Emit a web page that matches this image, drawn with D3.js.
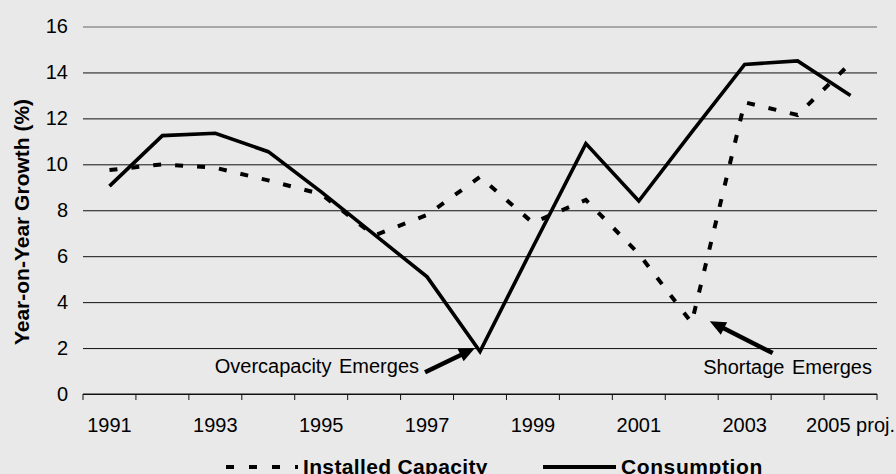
<!DOCTYPE html>
<html>
<head>
<meta charset="utf-8">
<script src="https://cdn.jsdelivr.net/npm/d3@7"></script>
<style>
  html, body { margin: 0; padding: 0; background: #e9e9e9; }
  svg { display: block; font-family: "Liberation Sans", Arial, sans-serif; }
</style>
</head>
<body>
<svg id="chart" width="896" height="474"></svg>
<script>
// Year-on-year growth of installed capacity vs. consumption
const years = [1991, 1992, 1993, 1994, 1995, 1996, 1997, 1998, 1999, 2000, 2001, 2002, 2003, 2004, 2005];
const tickLabels = ["1991", "", "1993", "", "1995", "", "1997", "", "1999", "", "2001", "", "2003", "", "2005 proj."];
const consumption = [9.05, 11.25, 11.35, 10.55, 8.8, 6.95, 5.1, 1.85, 6.4, 10.9, 8.4, 11.4, 14.35, 14.5, 13.0];
const capacity = [9.75, 10.0, 9.85, 9.3, 8.7, 6.9, 7.8, 9.45, 7.45, 8.45, 6.1, 3.1, 12.7, 12.15, 14.4];
const yTicks = [0, 2, 4, 6, 8, 10, 12, 14, 16];

const svg = d3.select("#chart");
const plotLeft = 83, plotRight = 877, plotTop = 26.5, plotBottom = 394;

const x = d3.scaleBand().domain(years).range([plotLeft, plotRight]).padding(0);
const y = d3.scaleLinear().domain([0, 16]).range([plotBottom, plotTop]);
const cx = yr => x(yr) + x.bandwidth() / 2;

// horizontal gridlines + y labels
const yAxis = svg.append("g")
  .attr("transform", `translate(${plotLeft},0)`)
  .call(d3.axisLeft(y).tickValues(yTicks).tickSize(-(plotRight - plotLeft)).tickPadding(15));
yAxis.select(".domain").remove();
yAxis.selectAll(".tick line")
  .attr("stroke", d => d === 16 ? "#666" : "#111")
  .attr("stroke-width", 1);
yAxis.selectAll(".tick text")
  .attr("font-size", 20).attr("fill", "#000")
  .attr("font-family", "Liberation Sans, Arial, sans-serif");

// x axis line with ticks at category boundaries
svg.append("line")
  .attr("x1", plotLeft).attr("x2", plotRight).attr("y1", plotBottom).attr("y2", plotBottom)
  .attr("stroke", "#111").attr("stroke-width", 1);
const bounds = years.map(yr => x(yr)).concat([x.range()[1]]);
svg.append("g").selectAll("line").data(bounds).join("line")
  .attr("x1", d => d).attr("x2", d => d)
  .attr("y1", plotBottom).attr("y2", plotBottom + 6)
  .attr("stroke", "#111").attr("stroke-width", 1);

const xAxis = svg.append("g")
  .attr("transform", `translate(0,${plotBottom})`)
  .call(d3.axisBottom(x).tickSize(0).tickPadding(24).tickFormat((d, i) => tickLabels[i]));
xAxis.select(".domain").remove();
xAxis.selectAll(".tick text")
  .attr("font-size", 20).attr("fill", "#000")
  .attr("font-family", "Liberation Sans, Arial, sans-serif");

// y-axis title
svg.append("text")
  .attr("transform", "translate(29,222) rotate(-90)")
  .attr("text-anchor", "middle")
  .attr("font-size", 21).attr("font-weight", "bold")
  .text("Year-on-Year Growth (%)");

// series lines
const line = d3.line().x((d, i) => cx(years[i])).y(d => y(d));
svg.append("path").datum(capacity)
  .attr("d", line).attr("fill", "none")
  .attr("stroke", "#000").attr("stroke-width", 4)
  .attr("stroke-dasharray", "8,14");
svg.append("path").datum(consumption)
  .attr("d", line).attr("fill", "none")
  .attr("stroke", "#000").attr("stroke-width", 3.6)
  .attr("stroke-linejoin", "miter");

// annotation arrows
function arrow(x1, y1, x2, y2) {
  const dx = x2 - x1, dy = y2 - y1, len = Math.hypot(dx, dy);
  const ux = dx / len, uy = dy / len, hl = 16, hw = 7;
  const bx = x2 - ux * hl, by = y2 - uy * hl;
  svg.append("line")
    .attr("x1", x1).attr("y1", y1).attr("x2", bx + ux * 2).attr("y2", by + uy * 2)
    .attr("stroke", "#000").attr("stroke-width", 4.5);
  svg.append("path")
    .attr("d", `M${x2},${y2}L${bx - uy * hw},${by + ux * hw}L${bx + uy * hw},${by - ux * hw}Z`)
    .attr("fill", "#000");
}
arrow(cx(1997) - 2, y(0.95), cx(1998) - 5, y(2.0));
arrow(cx(2003) + 28, y(1.78), cx(2002) + 18, y(3.17));

svg.append("text")
  .attr("x", 419).attr("y", 373).attr("text-anchor", "end")
  .attr("font-size", 20).attr("word-spacing", 2)
  .text("Overcapacity Emerges");
svg.append("text")
  .attr("x", 872).attr("y", 374).attr("text-anchor", "end")
  .attr("font-size", 20).attr("word-spacing", 2)
  .text("Shortage Emerges");

// legend
const legend = svg.append("g");
legend.append("line")
  .attr("x1", 226).attr("x2", 298).attr("y1", 467).attr("y2", 467)
  .attr("stroke", "#000").attr("stroke-width", 4).attr("stroke-dasharray", "8,15");
legend.append("text")
  .attr("x", 303).attr("y", 474)
  .attr("font-size", 21).attr("font-weight", "bold").attr("letter-spacing", 0.35)
  .text("Installed Capacity");
legend.append("line")
  .attr("x1", 543).attr("x2", 616).attr("y1", 467).attr("y2", 467)
  .attr("stroke", "#000").attr("stroke-width", 4);
legend.append("text")
  .attr("x", 621).attr("y", 474)
  .attr("font-size", 21).attr("font-weight", "bold").attr("letter-spacing", 0.6)
  .text("Consumption");
</script>
</body>
</html>
